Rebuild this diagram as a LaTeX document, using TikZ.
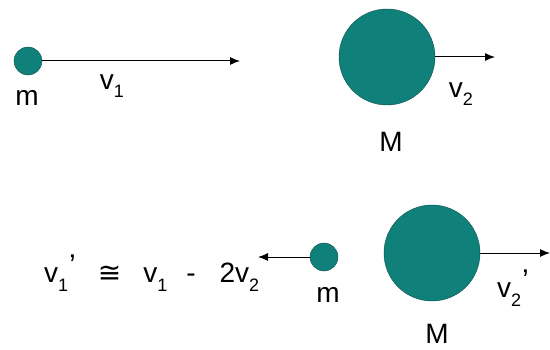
\documentclass[tikz,border=0pt]{standalone}
\usepackage{fontspec}
\usetikzlibrary{arrows.meta}
\setmainfont{Liberation Sans}
\newfontfamily\symbfont{DejaVu Sans}
\definecolor{sarcelle}{RGB}{16,128,122}
\tikzset{
  boule/.style={circle,fill=sarcelle,draw=sarcelle!60!black,thin,inner sep=0pt},
  vecteur/.style={-{Latex[length=10pt,width=8pt]},line width=1pt},
  etiq/.style={font=\fontsize{28}{30}\selectfont,inner sep=0pt}
}
\newcommand{\indice}[1]{\raisebox{-0.3em}{\fontsize{18}{20}\selectfont #1}}
\newcommand{\prim}{\raisebox{0.25em}{\kern1pt\fontsize{30}{30}\selectfont ’}}
\begin{document}
\begin{tikzpicture}[x=1pt,y=1pt]
  \useasboundingbox (0,0) rectangle (550,349);
  % Avant le choc
  \node[boule,minimum size=28pt] (m1) at (28,288) {};
  \coordinate (f1) at (240,288);
  \draw[vecteur] (m1) -- (f1);
  \node[etiq] (lm1) at (27,251) {m};
  \node[etiq] (lv1) at (112,263) {v\indice{1}};
  \node[boule,minimum size=96pt] (M1) at (387,292) {};
  \coordinate (f2) at (495,292);
  \draw[vecteur] (M1.east) -- (f2);
  \node[etiq] (lv2) at (461,255) {v\indice{2}};
  \node[etiq] (lM1) at (391,207) {M};

  % Apres le choc
  \node[boule,minimum size=28pt] (m2) at (324,92) {};
  \coordinate (f3) at (258,92);
  \draw[vecteur] (m2) -- (f3);
  \node[etiq] (lm2) at (328,54) {m};
  \node[boule,minimum size=96pt] (M2) at (432,96) {};
  \coordinate (f4) at (550,96);
  \draw[vecteur] (M2.east) -- (f4);
  \node[etiq] (lv2p) at (513,61) {v\indice{2}\prim};
  \node[etiq] (lM2) at (437,15) {M};

  % Relation entre les vitesses
  \node[etiq,anchor=west] (eq) at (44,76)
    {v\indice{1}\prim\hspace{22pt}{\symbfont ≅}\hspace{22pt}v\indice{1}\hspace{19pt}-\hspace{24pt}2v\indice{2}};
\end{tikzpicture}
\end{document}
